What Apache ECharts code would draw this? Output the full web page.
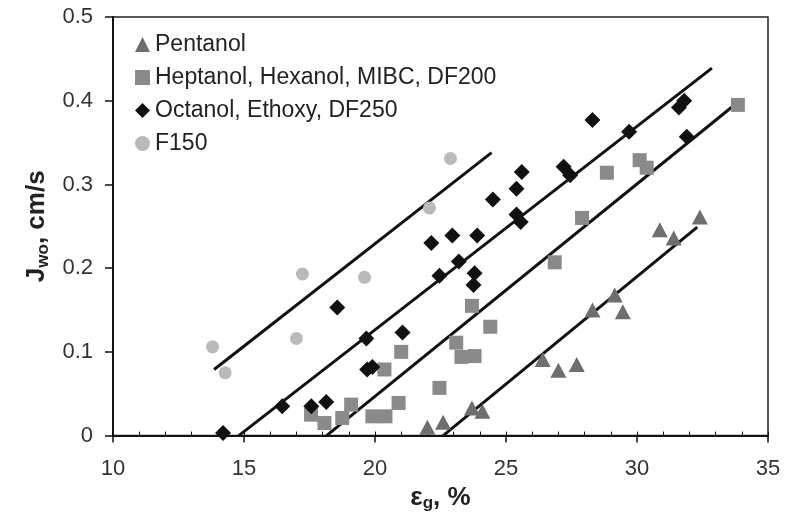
<!DOCTYPE html>
<html>
<head>
<meta charset="utf-8">
<script src="https://cdn.jsdelivr.net/npm/echarts@6/dist/echarts.min.js"></script>
<style>html,body{margin:0;padding:0;background:#fff;}#c{width:791px;height:517px;}</style>
</head>
<body>
<div id="c"></div>
<script>
// Data (x = eps_g %, y = J_wo cm/s)
const pentanol = [[22.0,0.010],[22.6,0.016],[23.7,0.033],[24.1,0.029],[26.4,0.091],[27.0,0.078],[27.7,0.085],[28.3,0.150],[29.15,0.168],[29.46,0.148],[30.87,0.246],[31.4,0.236],[32.4,0.261]];
const heptanol = [[17.56,0.025],[18.07,0.015],[18.75,0.021],[19.09,0.037],[19.9,0.023],[20.4,0.023],[20.9,0.039],[21.0,0.100],[20.36,0.079],[22.46,0.057],[23.1,0.111],[23.3,0.094],[23.8,0.095],[23.7,0.155],[24.4,0.130],[26.86,0.207],[27.9,0.260],[28.85,0.314],[30.1,0.329],[30.37,0.320],[33.85,0.395]];
const octanol = [[14.2,0.003],[16.46,0.035],[17.57,0.035],[18.14,0.040],[18.56,0.153],[19.67,0.116],[19.7,0.079],[19.9,0.082],[21.05,0.123],[22.15,0.230],[22.95,0.239],[23.9,0.239],[22.46,0.191],[23.2,0.208],[23.8,0.194],[23.76,0.180],[24.5,0.282],[25.4,0.295],[25.6,0.315],[25.4,0.264],[25.56,0.255],[28.3,0.377],[27.2,0.321],[27.45,0.311],[29.7,0.363],[31.6,0.392],[31.8,0.400],[31.9,0.357]];
const f150 = [[13.8,0.106],[14.28,0.075],[17.23,0.193],[17.0,0.116],[19.6,0.189],[22.08,0.272],[22.88,0.331]];
// Fitted lines (endpoints)
const linePentanol = [[22.6,0.0],[32.3,0.249]];
const lineHeptanol = [[18.15,0.0],[33.8,0.397]];
const lineOctanol = [[14.8,0.0],[32.86,0.439]];
const lineF150 = [[13.86,0.079],[24.45,0.338]];
const xTicks = [10,15,20,25,30,35];
const yTicks = [0,0.1,0.2,0.3,0.4,0.5];

const chart = echarts.init(document.getElementById('c'));
const lineStyle = {color:'#111', width:3};
function fit(data){return {type:'line', data:data, symbol:'none', lineStyle:lineStyle, silent:true, z:2, xAxisIndex:0, yAxisIndex:0};}
chart.setOption({
  animation:false,
  backgroundColor:'#fff',
  grid:{left:113, right:23, top:17, bottom:81, show:true, borderColor:'#222', borderWidth:1.5},
  legend:{
    orient:'vertical', left:130, top:28, itemGap:10, itemWidth:15, itemHeight:15,
    textStyle:{fontFamily:'Liberation Sans, Arial, sans-serif', fontSize:23, color:'#222'},
    data:['Pentanol','Heptanol, Hexanol, MIBC, DF200','Octanol, Ethoxy, DF250','F150']
  },
  xAxis:[{
    type:'value', min:xTicks[0], max:xTicks[xTicks.length-1], interval:5,
    splitLine:{show:false},
    axisLine:{lineStyle:{color:'#111', width:2}},
    axisTick:{length:7, lineStyle:{color:'#111', width:1.5}},
    axisLabel:{fontFamily:'Liberation Sans, Arial, sans-serif', fontSize:22, color:'#333', margin:22},
    name:'{a|ε}{s|g}{a|, %}', nameLocation:'middle', nameGap:46,
    nameTextStyle:{rich:{a:{fontFamily:'Liberation Sans, Arial, sans-serif', fontSize:26, fontWeight:'bold', color:'#222'}, s:{fontFamily:'Liberation Sans, Arial, sans-serif', fontSize:17, fontWeight:'bold', color:'#222', padding:[12,0,0,0]}}}
  },{
    type:'value', min:10, max:35, interval:1, position:'bottom',
    splitLine:{show:false}, axisLine:{show:false}, axisLabel:{show:false},
    axisTick:{inside:true, length:4, lineStyle:{color:'#111', width:1}}
  }],
  yAxis:{
    type:'value', min:yTicks[0], max:yTicks[yTicks.length-1], interval:0.1,
    splitLine:{show:false},
    axisLine:{show:true, lineStyle:{color:'#111', width:2}},
    axisTick:{show:true, length:8, lineStyle:{color:'#111', width:1.5}},
    axisLabel:{fontFamily:'Liberation Sans, Arial, sans-serif', fontSize:22, color:'#333', margin:20},
    name:'{a|J}{s|wo}{a|, cm/s}', nameLocation:'middle', nameGap:56, nameRotate:90,
    nameTextStyle:{rich:{a:{fontFamily:'Liberation Sans, Arial, sans-serif', fontSize:26, fontWeight:'bold', color:'#222'}, s:{fontFamily:'Liberation Sans, Arial, sans-serif', fontSize:17, fontWeight:'bold', color:'#222', padding:[12,0,0,0]}}}
  },
  series:[
    fit(linePentanol), fit(lineHeptanol), fit(lineOctanol), fit(lineF150),
    {name:'Pentanol', type:'scatter', data:pentanol, symbol:'triangle', symbolSize:[16,15], itemStyle:{color:'#6e6e6e', opacity:1}, z:3},
    {name:'Heptanol, Hexanol, MIBC, DF200', type:'scatter', data:heptanol, symbol:'rect', symbolSize:14, itemStyle:{color:'#8a8a8a', opacity:1}, z:3},
    {name:'Octanol, Ethoxy, DF250', type:'scatter', data:octanol, symbol:'diamond', symbolSize:[16,16], itemStyle:{color:'#111', opacity:1}, z:3},
    {name:'F150', type:'scatter', data:f150, symbol:'circle', symbolSize:13, itemStyle:{color:'#bababa', opacity:1}, z:3}
  ]
});
</script>
</body>
</html>
